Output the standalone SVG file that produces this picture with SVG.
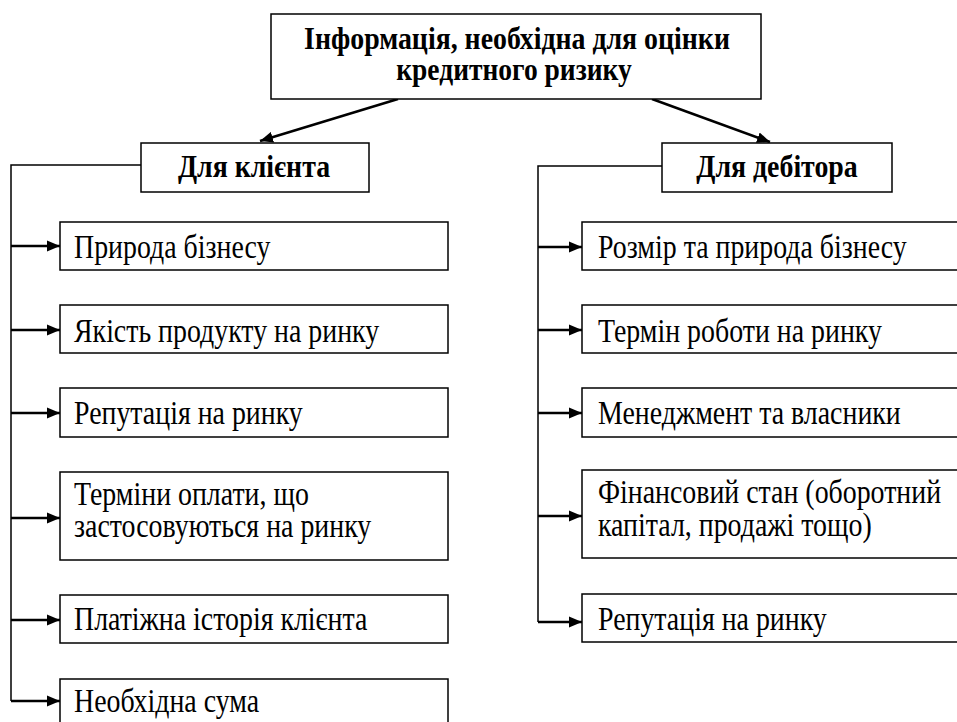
<svg xmlns="http://www.w3.org/2000/svg" width="957" height="722" viewBox="0 0 957 722">
<defs>
<style>
.box{fill:#fff;stroke:#000;stroke-width:1.5}
.t{font-family:"Liberation Serif","Times New Roman",serif;font-size:34px;fill:#000}
.b{font-family:"Liberation Serif","Times New Roman",serif;font-size:32px;font-weight:bold;fill:#000}
.ln{fill:none;stroke:#000;stroke-width:1.5}
.ar{fill:none;stroke:#000;stroke-width:2.5}
</style>
<marker id="ah" markerUnits="userSpaceOnUse" markerWidth="14" markerHeight="12" refX="13" refY="6" orient="auto">
<path d="M0,0.5 L13,6 L0,11.5 Z" fill="#000"/>
</marker>
</defs>
<rect width="957" height="722" fill="#fff"/>

<g id="connectors">
<line class="ar" x1="398" y1="99" x2="260" y2="141" marker-end="url(#ah)"/>
<line class="ar" x1="652" y1="99" x2="770" y2="142" marker-end="url(#ah)"/>
<polyline class="ln" points="141,165 11,165 11,701"/>
<polyline class="ln" points="662,166 538,166 538,622"/>
<line class="ar" x1="11" y1="246" x2="60" y2="246" marker-end="url(#ah)"/>
<line class="ar" x1="11" y1="330" x2="60" y2="330" marker-end="url(#ah)"/>
<line class="ar" x1="11" y1="413" x2="60" y2="413" marker-end="url(#ah)"/>
<line class="ar" x1="11" y1="518" x2="60" y2="518" marker-end="url(#ah)"/>
<line class="ar" x1="11" y1="620" x2="60" y2="620" marker-end="url(#ah)"/>
<line class="ar" x1="11" y1="701" x2="60" y2="701" marker-end="url(#ah)"/>
<line class="ar" x1="538" y1="247" x2="582" y2="247" marker-end="url(#ah)"/>
<line class="ar" x1="538" y1="330" x2="582" y2="330" marker-end="url(#ah)"/>
<line class="ar" x1="538" y1="413" x2="582" y2="413" marker-end="url(#ah)"/>
<line class="ar" x1="538" y1="516" x2="582" y2="516" marker-end="url(#ah)"/>
<line class="ar" x1="538" y1="622" x2="582" y2="622" marker-end="url(#ah)"/>
</g>

<g id="root">
<rect class="box" x="271" y="14" width="490" height="85"/>
<text class="b" text-anchor="middle" transform="translate(517,49) scale(0.87,1)">Інформація, необхідна для оцінки</text>
<text class="b" text-anchor="middle" transform="translate(514,80) scale(0.86,1)">кредитного ризику</text>
</g>

<g id="client">
<rect class="box" x="141" y="143" width="228" height="49"/>
<text class="b" text-anchor="middle" transform="translate(254,177) scale(0.87,1)">Для клієнта</text>
</g>

<g id="debtor">
<rect class="box" x="662" y="143" width="230" height="49"/>
<text class="b" text-anchor="middle" transform="translate(777,177) scale(0.87,1)">Для дебітора</text>
</g>

<g id="c1">
<rect class="box" x="60" y="222" width="388" height="48"/>
<text class="t" transform="translate(74,258) scale(0.82,1)">Природа бізнесу</text>
</g>
<g id="c2">
<rect class="box" x="60" y="305" width="388" height="48"/>
<text class="t" transform="translate(74,342) scale(0.82,1)">Якість продукту на ринку</text>
</g>
<g id="c3">
<rect class="box" x="60" y="388" width="388" height="49"/>
<text class="t" transform="translate(74,424) scale(0.82,1)">Репутація на ринку</text>
</g>
<g id="c4">
<rect class="box" x="60" y="472" width="388" height="88"/>
<text class="t" transform="translate(74,505) scale(0.82,1)">Терміни оплати, що</text>
<text class="t" transform="translate(74,537) scale(0.82,1)">застосовуються на ринку</text>
</g>
<g id="c5">
<rect class="box" x="60" y="595" width="388" height="48"/>
<text class="t" transform="translate(74,630) scale(0.82,1)">Платіжна історія клієнта</text>
</g>
<g id="c6">
<rect class="box" x="60" y="679" width="388" height="60"/>
<text class="t" transform="translate(74,712) scale(0.82,1)">Необхідна сума</text>
</g>

<g id="d1">
<rect class="box" x="582" y="222" width="400" height="48"/>
<text class="t" transform="translate(598,258) scale(0.82,1)">Розмір та природа бізнесу</text>
</g>
<g id="d2">
<rect class="box" x="582" y="305" width="400" height="48"/>
<text class="t" transform="translate(598,342) scale(0.82,1)">Термін роботи на ринку</text>
</g>
<g id="d3">
<rect class="box" x="582" y="388" width="400" height="49"/>
<text class="t" transform="translate(598,424) scale(0.82,1)">Менеджмент та власники</text>
</g>
<g id="d4">
<rect class="box" x="582" y="470" width="400" height="88"/>
<text class="t" transform="translate(598,503) scale(0.82,1)">Фінансовий стан (оборотний</text>
<text class="t" transform="translate(598,536) scale(0.82,1)">капітал, продажі тощо)</text>
</g>
<g id="d5">
<rect class="box" x="582" y="594" width="400" height="48"/>
<text class="t" transform="translate(598,630) scale(0.82,1)">Репутація на ринку</text>
</g>
</svg>
